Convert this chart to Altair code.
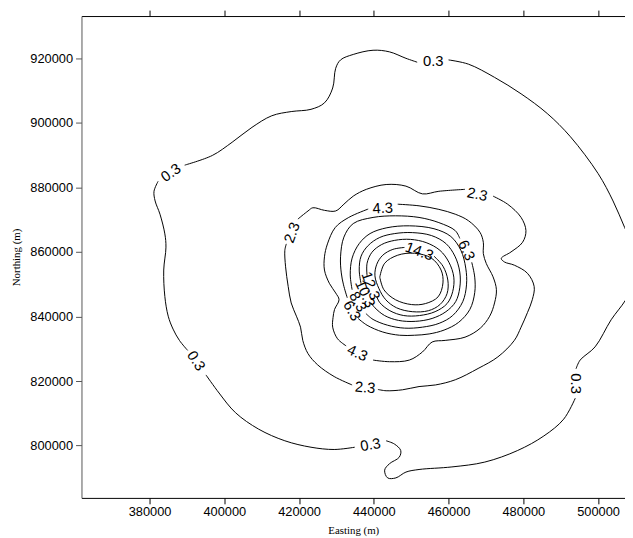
import altair as alt
import pandas as pd

# ---- contour 0.3 (segments between labels) ----
c03_a = [(460000,919500),(465300,918200),(472300,914100),(479400,909000),(486400,902900),(492600,895700),
         (500000,884300),(504000,875800),(507100,867600),(510300,859000),(510000,851000),(507300,845000),
         (503500,839000),(499200,830600),(495200,826500),(494100,823800)]
c03_b = [(493900,814700),(490800,808200),(485500,803000),(478500,798500),(469700,794900),(460900,793400),
         (452100,792600),(448600,791800),(445900,790000),(443700,790000),(442900,792400),(444200,794400),
         (446800,796400),(447200,798500),(445500,800500),(443300,801500)]
c03_c = [(434900,799500),(429400,798800),(423200,799500),(416200,801500),(409200,805100),(403000,810200),
         (398600,816300),(395100,821900)]
c03_d = [(390200,829500),(388000,832600),(386300,836100),(385000,840100),(384100,846200),(383800,854400),
         (384400,861500),(384100,865600),(382800,871700),(381500,875800),(381200,878800),(382300,881900)]
c03_e = [(389400,886900),(396800,889900),(402100,894000),(407400,898600),(412700,902200),(417900,903500),
         (423200,904200),(426800,906200),(429000,910800),(429800,916900),(431100,919500),(434500,921200),
         (439800,922500),(444200,922000),(448600,920000),(451600,918800)]

# ---- contour 2.3 ----
c23_a = [(419700,870200),(422400,872700),(423700,873700),(426800,872900),(429800,872700),(432000,874800),
         (434500,877300),(438000,879400),(443300,880900),(448600,880400),(453000,878000),(457400,878800),
         (464400,879400)]
c23_b = [(471900,877300),(475800,874800),(479400,870700),(480700,866600),(479800,863000),(476700,860000),
         (474100,858000),(474950,856900),(477600,855900),(481100,853400),(482900,849300),(482400,845200),
         (481100,841200),(479400,836700),(477600,832600),(473200,827500),(467900,823900),(461800,820400),
         (456500,818800),(452100,818300),(447700,817300),(443300,817000),(441100,817400)]
c23_c = [(434200,818800),(429400,821400),(425000,825000),(422400,828500),(421000,832600),(420400,836700),
         (419300,840100),(417900,844200),(417100,849300),(416400,855400),(416200,860500),(416600,862500)]

# ---- contour 4.3 ----
c43_a = [(446400,874800),(452100,874300),(457400,873200),(461800,871700),(465300,869700),(468400,866100),
         (469300,863000),(469300,859500),(470100,856400),(471900,852300),(472800,848300),(472300,844200),
         (471000,840100),(468500,836400),(464400,833600),(459100,832600),(455600,832100),(453000,829000),
         (449500,826500),(444200,826000),(439800,826500)]
c43_b = [(432600,830900),(430300,833100),(429000,836700),(429100,839700),(429500,842200),(430700,845200),
         (429800,847300),(428100,850300),(426800,854400),(426800,858500),(427600,862500),(429700,867600),
         (433300,870700),(438500,873300)]

# ---- contour 6.3 ----
c63_a = [(466200,856800),(467000,852200),(467000,847400),(465700,842200),(462700,838200),(458800,835800),
         (454800,834600),(450900,834200),(446900,834200),(442400,835200),(438200,837300),(435800,839400)]
c63_b = [(432900,845800),(431900,849800),(431300,853500),(431100,858500),(432000,864600),(434500,868800),
         (439800,870700),(445800,871200),(452100,870700),(457400,869100),(461800,866600),(463000,864200)]

# ---- contour 8.3 ----
c83_a = [(434200,848300),(433700,852900),(434200,858100),(436100,862600),(439000,865700),(443500,867500),
         (449500,868100),(456100,867200),(460600,864800),(463300,860500),(464600,855000),(464800,849800),
         (463800,844600),(461100,840300),(457500,837900),(453000,836700),(448200,836400),(443700,837300),
         (439800,839100),(437900,840900)]

# ---- contour 10.3 ----
c103_a = [(436600,850100),(436100,854400),(436600,858700),(438500,862000),(441600,864500),(445600,865700),
          (450300,866000),(455400,865100),(459300,862600),(461700,858700),(463000,853800),(463000,848900),
          (461900,844600),(459300,841500),(455600,839400),(451100,838500),(446600,838800),(442900,840300),
          (440300,842700),(439200,844300)]

# ---- contour 12.3 ----
c123_a = [(438200,852600),(438200,856500),(439500,859900),(442100,862300),(445600,863600),(449800,863900),
          (454000,862900),(457700,860500),(460100,856800),(461400,852200),(461100,847700),(459600,844000),
          (456400,841500),(452200,840300),(448000,840300),(444300,841800),(441600,844300),(440800,846100)]

# ---- contour 14.3 ----
c143_a = [(456100,858700),(458500,855600),(459800,851300),(459600,847100),(457700,843700),(454600,841800),
          (450300,841500),(446100,842700),(443200,845200),(441400,848600),(440300,852600),(440800,856200),
          (442400,859000),(445100,860800),(448200,861400)]

# ---- contour 16.3 (innermost, closed) ----
c163_a = [(441600,852200),(442900,856500),(446400,859000),(450900,859600),(455400,858100),(458000,854400),
          (458500,850400),(457200,846100),(453800,844000),(450100,843700),(445800,845200),(442700,848300),
          (441600,852200)]

segments = {
    "0.3a": c03_a, "0.3b": c03_b, "0.3c": c03_c, "0.3d": c03_d, "0.3e": c03_e,
    "2.3a": c23_a, "2.3b": c23_b, "2.3c": c23_c,
    "4.3a": c43_a, "4.3b": c43_b,
    "6.3a": c63_a, "6.3b": c63_b,
    "8.3a": c83_a, "10.3a": c103_a, "12.3a": c123_a, "14.3a": c143_a, "16.3a": c163_a,
}

# ---- contour labels ----
label_text = ["0.3", "0.3", "0.3", "0.3", "0.3", "2.3", "2.3", "2.3", "4.3", "4.3",
              "6.3", "6.3", "8.3", "10.3", "12.3", "14.3"]
label_x = [455900, 494100, 439100, 392500, 385700, 418100, 467700, 437700, 442400, 435600,
           464800, 434200, 435800, 437700, 439200, 452200]
label_y = [919200, 819200, 800300, 826300, 884600, 866000, 877900, 818000, 873600, 828700,
           860500, 841800, 844600, 847100, 849500, 860200]
label_angle = [0, 90, -10, 58, -35, -70, 12, 5, -3, 25,
               65, 60, 60, 65, 70, 20]

x_ticks = [380000, 400000, 420000, 440000, 460000, 480000, 500000]
y_ticks = [800000, 820000, 840000, 860000, 880000, 900000, 920000]
x_domain = [361800, 507200]
y_domain = [783800, 933100]

rows = []
for name, pts in segments.items():
    for i, (xx, yy) in enumerate(pts):
        rows.append({"seg": name, "i": i, "x": xx, "y": yy})
lines_df = pd.DataFrame(rows)
labels_df = pd.DataFrame({"t": label_text, "x": label_x, "y": label_y, "a": label_angle})

xs = alt.Scale(domain=x_domain, nice=False, zero=False)
ys = alt.Scale(domain=y_domain, nice=False, zero=False)

x_axis = alt.Axis(values=x_ticks, format="d", title="Easting (m)", grid=False, tickSize=6,
                  labelFont="Liberation Sans", labelFontSize=13, labelColor="black",
                  titleFont="Liberation Serif", titleFontSize=11, titleFontWeight="normal",
                  titleColor="black", titlePadding=6, domainColor="black", tickColor="black",
                  labelPadding=2)
y_axis = alt.Axis(values=y_ticks, format="d", title="Northing (m)", grid=False, tickSize=6,
                  labelFont="Liberation Sans", labelFontSize=13, labelColor="black",
                  titleFont="Liberation Serif", titleFontSize=11, titleFontWeight="normal",
                  titleColor="black", titlePadding=8, domainColor="#555555", tickColor="#555555",
                  labelPadding=3)
top_axis = alt.Axis(values=x_ticks, orient="top", labels=False, title=None, grid=False, tickSize=6,
                    domainColor="black", tickColor="black")

lines = alt.Chart(lines_df).mark_line(color="black", strokeWidth=1, clip=True,
                                      interpolate="catmull-rom").encode(
    x=alt.X("x:Q", scale=xs, axis=x_axis),
    y=alt.Y("y:Q", scale=ys, axis=y_axis),
    detail="seg:N",
    order="i:Q",
)

labels = alt.Chart(labels_df).mark_text(font="Liberation Sans", fontSize=15, color="black",
                                        align="center", baseline="middle").encode(
    x=alt.X("x:Q", scale=xs, axis=top_axis),
    y=alt.Y("y:Q", scale=ys, axis=None),
    text="t:N",
    angle=alt.Angle("a:Q", scale=None),
)

chart = alt.layer(lines, labels).resolve_axis(x="independent", y="independent").properties(
    width=551, height=488.5,
    padding={"left": 74.5, "top": 4.5, "right": 0, "bottom": 37},
    autosize=alt.AutoSizeParams(type="none"),
).configure_view(stroke=None)

chart.save("out.html", embed_options={"renderer": "svg", "actions": False})
